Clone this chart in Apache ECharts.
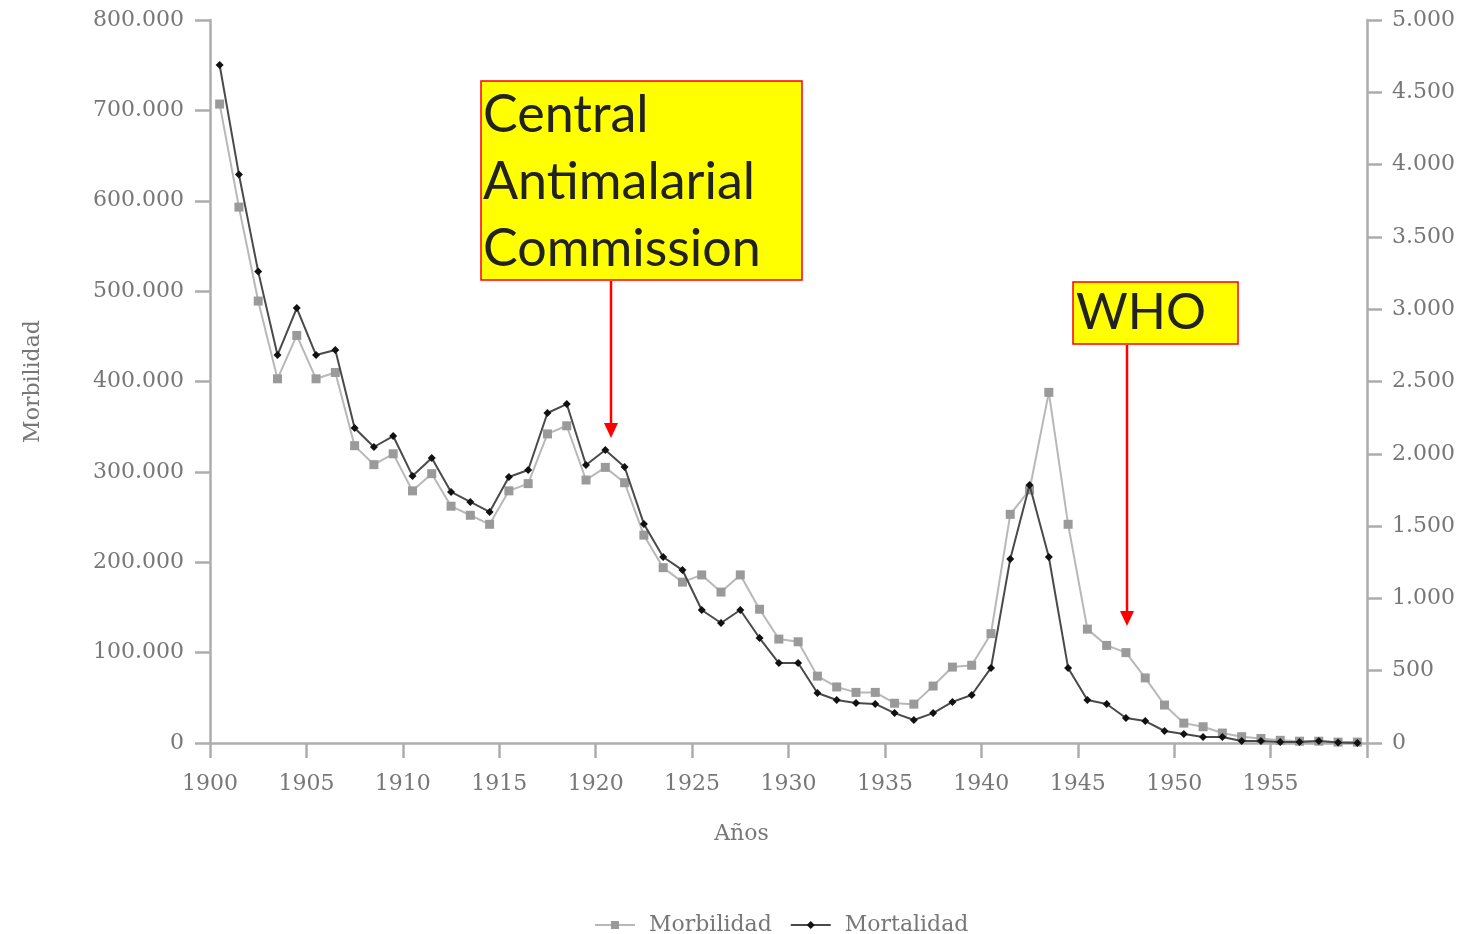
<!DOCTYPE html>
<html>
<head>
<meta charset="utf-8">
<script src="https://cdn.jsdelivr.net/npm/echarts@6/dist/echarts.min.js"></script>
<style>
html,body{margin:0;padding:0;background:#fff;}
#chart{width:1478px;height:934px;}
</style>
</head>
<body>
<div id="chart"></div>
<script>
var years = [1900,1901,1902,1903,1904,1905,1906,1907,1908,1909,
             1910,1911,1912,1913,1914,1915,1916,1917,1918,1919,
             1920,1921,1922,1923,1924,1925,1926,1927,1928,1929,
             1930,1931,1932,1933,1934,1935,1936,1937,1938,1939,
             1940,1941,1942,1943,1944,1945,1946,1947,1948,1949,
             1950,1951,1952,1953,1954,1955,1956,1957,1958,1959];
var morbilidad = [707000,593000,489000,403000,451000,403000,410000,329000,308000,320000,
                  279000,298000,262000,252000,242000,279000,287000,342000,351000,291000,
                  305000,288000,230000,194000,178000,186000,167000,186000,148000,115000,
                  112000,74000,62000,56000,56000,44000,43000,63000,84000,86000,
                  121000,253000,280000,388000,242000,126000,108000,100000,72000,42000,
                  22000,18000,11000,7000,5000,3000,2000,2000,1000,1000];
var mortalidad = [4689,3932,3260,2683,3008,2683,2718,2178,2047,2123,
                  1847,1971,1736,1667,1598,1840,1888,2282,2344,1923,
                  2026,1909,1515,1286,1196,920,830,920,726,553,
                  553,346,297,277,270,207,159,207,284,332,
                  519,1273,1784,1286,519,297,270,173,152,83,
                  62,41,41,14,14,7,7,14,3,0];
var seriesNames = ['Morbilidad','Mortalidad'];
var xAxisName = 'Años';
var yAxisName = 'Morbilidad';
var annotation1 = 'Central\nAntimalarial\nCommission';
var annotation2 = 'WHO';

function dotFmt(v){
  return String(Math.round(v)).replace(/\B(?=(\d{3})+(?!\d))/g,'.');
}
function pairs(vals){
  return vals.map(function(v,i){ return [years[i]+0.5, v]; });
}

var serif = 'DejaVu Serif';
var labelColor = '#777';
var axisColor = '#adadad';
var fs = 22;

var chart = echarts.init(document.getElementById('chart'));
chart.setOption({
  animation:false,
  backgroundColor:'#fff',
  grid:{left:210,right:111,top:20,bottom:191,containLabel:false},
  legend:{
    top:909,left:589,itemWidth:40,itemHeight:10,itemGap:18,
    textStyle:{fontFamily:serif,fontSize:fs,color:labelColor,padding:[0,0,0,9]},
    data:seriesNames
  },
  xAxis:{
    type:'value',min:1900,max:1960,interval:5,
    name:xAxisName,nameLocation:'middle',nameGap:80,
    nameTextStyle:{fontFamily:serif,fontSize:fs,color:labelColor,padding:[0,94,0,0]},
    axisLine:{show:true,lineStyle:{color:axisColor,width:2.5}},
    axisTick:{show:true,inside:false,length:15,lineStyle:{color:axisColor,width:2.5}},
    axisLabel:{margin:30,fontFamily:serif,fontSize:fs,color:labelColor,
      formatter:function(v){return v===1960?'':String(v);}},
    splitLine:{show:false}
  },
  yAxis:[{
    type:'value',min:0,max:800000,interval:100000,position:'left',
    name:yAxisName,nameLocation:'middle',nameGap:166,nameRotate:90,
    nameTextStyle:{fontFamily:serif,fontSize:fs,color:labelColor},
    axisLine:{show:true,lineStyle:{color:axisColor,width:2.5}},
    axisTick:{show:true,inside:false,length:15,lineStyle:{color:axisColor,width:2.5}},
    axisLabel:{margin:26,fontFamily:serif,fontSize:fs,color:labelColor,formatter:dotFmt},
    splitLine:{show:false}
  },{
    type:'value',min:0,max:5000,interval:500,position:'right',
    axisLine:{show:true,lineStyle:{color:axisColor,width:2.5}},
    axisTick:{show:true,inside:false,length:15,lineStyle:{color:axisColor,width:2.5}},
    axisLabel:{margin:25,fontFamily:serif,fontSize:fs,color:labelColor,formatter:dotFmt},
    splitLine:{show:false}
  }],
  series:[{
    name:seriesNames[0],type:'line',yAxisIndex:0,data:pairs(morbilidad),
    symbol:'rect',symbolSize:9,
    itemStyle:{color:'#9a9a9a'},
    lineStyle:{color:'#b8b8b8',width:2},
    z:2
  },{
    name:seriesNames[1],type:'line',yAxisIndex:1,data:pairs(mortalidad),
    symbol:'diamond',symbolSize:8,
    itemStyle:{color:'#111'},
    lineStyle:{color:'#4a4a4a',width:2},
    z:3
  }],
  graphic:[
    {type:'rect',shape:{x:481,y:81,width:321,height:199},
     style:{fill:'#ffff00',stroke:'#ff0000',lineWidth:1.5},z:10},
    {type:'text',left:483,top:82,
     style:{text:annotation1,font:'52px Lato',fill:'#222',lineHeight:67},z:11},
    {type:'line',shape:{x1:611,y1:281,x2:611,y2:424},
     style:{stroke:'#ff0000',lineWidth:2.5},z:10},
    {type:'polygon',shape:{points:[[604,423],[618,423],[611,438]]},
     style:{fill:'#ff0000'},z:10},
    {type:'rect',shape:{x:1073,y:282,width:165,height:62},
     style:{fill:'#ffff00',stroke:'#ff0000',lineWidth:1.5},z:10},
    {type:'text',left:1076,top:282,
     style:{text:annotation2,font:'50px Lato',fill:'#222',lineHeight:62},z:11},
    {type:'line',shape:{x1:1127,y1:345,x2:1127,y2:612},
     style:{stroke:'#ff0000',lineWidth:2.5},z:10},
    {type:'polygon',shape:{points:[[1120,611],[1134,611],[1127,626]]},
     style:{fill:'#ff0000'},z:10}
  ]
});
</script>
</body>
</html>
